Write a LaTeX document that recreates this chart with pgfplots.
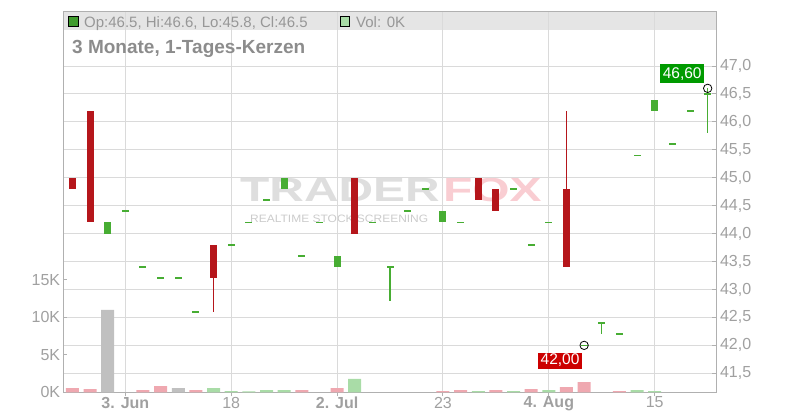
\documentclass[border=0pt]{standalone}
\usepackage{fontspec}
\setmainfont{Liberation Sans}
\usepackage{pgfplots}
\pgfplotsset{compat=1.18}
\usepackage{pgfplotstable}

\definecolor{cred}{HTML}{B5161B}
\definecolor{cgreen}{HTML}{47AD33}
\definecolor{vred}{HTML}{EFA8B0}
\definecolor{vgreen}{HTML}{A9DCA7}
\definecolor{vgray}{HTML}{C0C0C0}
\definecolor{gridc}{HTML}{DADADA}
\definecolor{axisc}{HTML}{B0B0B0}
\definecolor{tickc}{HTML}{A0A0A0}
\definecolor{headc}{HTML}{E5E5E5}
\definecolor{titlec}{HTML}{8C8C8C}
\definecolor{labgreen}{HTML}{009A00}
\definecolor{labred}{HTML}{CC0000}
\definecolor{wmgray}{HTML}{DEDEDE}
\definecolor{wmpink}{HTML}{F9CDD2}

% candles: index, open, high, low, close
\pgfplotstableread{
i o h l c
0 45.0 45.0 44.8 44.8
1 46.2 46.2 44.2 44.2
8 43.8 43.8 42.6 43.2
16 45.0 45.0 44.0 44.0
23 45.0 45.0 44.6 44.6
24 44.8 44.8 44.4 44.4
28 44.8 46.2 43.4 43.4
}\redtab

\pgfplotstableread{
i o h l c
2 44.0 44.2 44.0 44.2
3 44.4 44.4 44.4 44.4
4 43.4 43.4 43.4 43.4
5 43.2 43.2 43.2 43.2
6 43.2 43.2 43.2 43.2
7 42.6 42.6 42.6 42.6
9 43.8 43.8 43.8 43.8
10 44.2 44.2 44.2 44.2
11 44.6 44.6 44.6 44.6
12 44.8 45.0 44.8 45.0
13 43.6 43.6 43.6 43.6
14 44.2 44.2 44.2 44.2
15 43.4 43.6 43.4 43.6
17 44.2 44.2 44.2 44.2
18 43.4 43.4 42.8 43.4
19 44.4 44.4 44.4 44.4
20 44.8 44.8 44.8 44.8
21 44.2 44.4 44.2 44.4
22 44.2 44.2 44.2 44.2
25 44.8 44.8 44.8 44.8
26 43.8 43.8 43.8 43.8
27 44.2 44.2 44.2 44.2
29 42.0 42.0 42.0 42.0
30 42.4 42.4 42.2 42.4
31 42.2 42.2 42.2 42.2
32 45.4 45.4 45.4 45.4
33 46.2 46.4 46.2 46.4
34 45.6 45.6 45.6 45.6
35 46.2 46.2 46.2 46.2
36 46.5 46.6 45.8 46.5
}\greentab

% volume
\pgfplotstableread{
i v
0 570
1 440
4 300
5 840
7 300
13 300
15 570
21 170
22 300
24 300
26 440
28 700
29 1370
31 170
}\volred

\pgfplotstableread{
i v
8 570
9 170
10 140
11 300
12 300
16 1780
23 170
25 170
27 300
32 300
33 170
}\volgreen

\pgfplotstableread{
i v
2 11000
6 570
}\volgray

\pgfplotsset{
  candle body/.style={draw=none, mark=none,
    error bars/.cd, y dir=both, y explicit, error mark=none,
    error bar style={line width=7pt, draw=#1}},
  candle wick/.style={draw=none, mark=none,
    error bars/.cd, y dir=both, y explicit, error mark=none,
    error bar style={line width=1.3pt, draw=#1}},
}

\begin{document}
\begin{tikzpicture}
\useasboundingbox (0pt,0pt) rectangle (800pt,420pt);

% header band
\fill[headc] (63.3pt,390pt) rectangle (716.3pt,408.3pt);

% watermark
\node[anchor=base west, inner sep=0pt, text=wmgray, font=\bfseries\fontsize{33.5}{33.5}\selectfont]
  at (240pt,218.3pt) {\scalebox{1.43}[1]{TRADER}};
\node[anchor=base west, inner sep=0pt, text=wmpink, font=\bfseries\fontsize{33.5}{33.5}\selectfont]
  at (443pt,218.3pt) {\scalebox{1.43}[1]{FOX}};
\node[anchor=base west, inner sep=0pt, text=wmgray!80!gray, font=\fontsize{10.7}{10.7}\selectfont]
  at (250pt,197.3pt) {\scalebox{1.12}[1]{REALTIME STOCK SCREENING}};

% price axis with candles
\begin{axis}[
  at={(63.3pt,27.7pt)}, anchor=south west,
  scale only axis, width=653pt, height=380.6pt,
  xmin=-0.516, xmax=36.49,
  ymin=41.16, ymax=47.972,
  axis line style={draw=axisc, line width=1pt},
  grid=major,
  major grid style={draw=gridc, line width=1pt},
  tick align=inside,
  major tick length=4pt,
  tick style={draw=axisc, line width=1pt},
  xtick style={yshift=-4pt},
  xtick pos=bottom,
  ytick pos=right,
  yticklabel pos=right,
  xtick={3,9,15,21,27,33},
  xticklabels={\textbf{3. Jun},18,\textbf{2. Jul},23,\textbf{4. Aug},15},
  ytick={41.5,42,42.5,43,43.5,44,44.5,45,45.5,46,46.5,47},
  yticklabels={{41,5},{42,0},{42,5},{43,0},{43,5},{44,0},{44,5},{45,0},{45,5},{46,0},{46,5},{47,0}},
  tick label style={font=\fontsize{16}{16}\selectfont, text=tickc},
  yticklabel style={anchor=west, inner xsep=3.5pt},
  xticklabel style={yshift=-1pt},
]
  \addplot[candle wick=cred] table[x=i, y expr={(\thisrow{h}+\thisrow{l})/2},
    y error expr={(\thisrow{h}-\thisrow{l})/2}] {\redtab};
  \addplot[candle body=cred] table[x=i, y expr={(\thisrow{o}+\thisrow{c})/2},
    y error expr={max(abs(\thisrow{c}-\thisrow{o})/2,0.015)}] {\redtab};
  \addplot[candle wick=cgreen] table[x=i, y expr={(\thisrow{h}+\thisrow{l})/2},
    y error expr={(\thisrow{h}-\thisrow{l})/2}] {\greentab};
  \addplot[candle body=cgreen] table[x=i, y expr={(\thisrow{o}+\thisrow{c})/2},
    y error expr={max(abs(\thisrow{c}-\thisrow{o})/2,0.015)}] {\greentab};

  % high and low of the period
  \addplot[only marks, mark=o, mark size=4.2pt, black, line width=0.8pt]
    coordinates {(36,46.6) (29,42.0)};
  \node[fill=labgreen, text=white, anchor=south east, inner xsep=2.5pt, inner ysep=0pt,
    minimum height=19pt, font=\fontsize{15.5}{15.5}\selectfont, xshift=-3.4pt, yshift=5pt]
    at (axis cs:36,46.6) {46,60};
  \node[fill=labred, text=white, anchor=north east, inner xsep=2.5pt, inner ysep=0pt,
    minimum height=16pt, font=\fontsize{15.5}{15.5}\selectfont, xshift=-2pt, yshift=-7pt]
    at (axis cs:29,42.0) {42,00};
\end{axis}

% volume axis
\begin{axis}[
  at={(63.3pt,27.7pt)}, anchor=south west,
  scale only axis, width=653pt, height=380.6pt,
  xmin=-0.516, xmax=36.49,
  ymin=0, ymax=50830,
  axis x line=none,
  axis y line*=left,
  axis line style={draw=axisc, line width=1pt},
  tick align=inside,
  major tick length=4pt,
  tick style={draw=axisc, line width=1pt},
  ytick={0,5000,10000,15000},
  yticklabels={0K,5K,10K,15K},
  scaled y ticks=false,
  tick label style={font=\fontsize{16}{16}\selectfont, text=tickc},
  yticklabel style={inner xsep=3pt},
  ybar, bar width=13pt, bar shift=0pt,
]
  \addplot[fill=vred, draw=none] table[x=i, y=v] {\volred};
  \addplot[fill=vgreen, draw=none] table[x=i, y=v] {\volgreen};
  \addplot[fill=vgray, draw=none] table[x=i, y=v] {\volgray};
\end{axis}

% header legend and title
\filldraw[fill=cgreen!90!black, draw=black, line width=0.8pt] (68.8pt,393.6pt) rectangle (78.3pt,403.1pt);
\node[anchor=base west, inner sep=0pt, text=titlec!90!white, font=\fontsize{15}{15}\selectfont]
  at (84pt,392.7pt) {Op:46.5, Hi:46.6, Lo:45.8, Cl:46.5};
\filldraw[fill=vgreen, draw=black, line width=0.8pt] (340.3pt,393.6pt) rectangle (349.8pt,403.1pt);
\node[anchor=base west, inner sep=0pt, text=titlec!90!white, font=\fontsize{15}{15}\selectfont]
  at (356pt,392.7pt) {Vol: 0K};
\node[anchor=base west, inner sep=0pt, text=titlec, font=\bfseries\fontsize{19}{19}\selectfont]
  at (72pt,366pt) {3 Monate, 1-Tages-Kerzen};
\end{tikzpicture}
\end{document}
